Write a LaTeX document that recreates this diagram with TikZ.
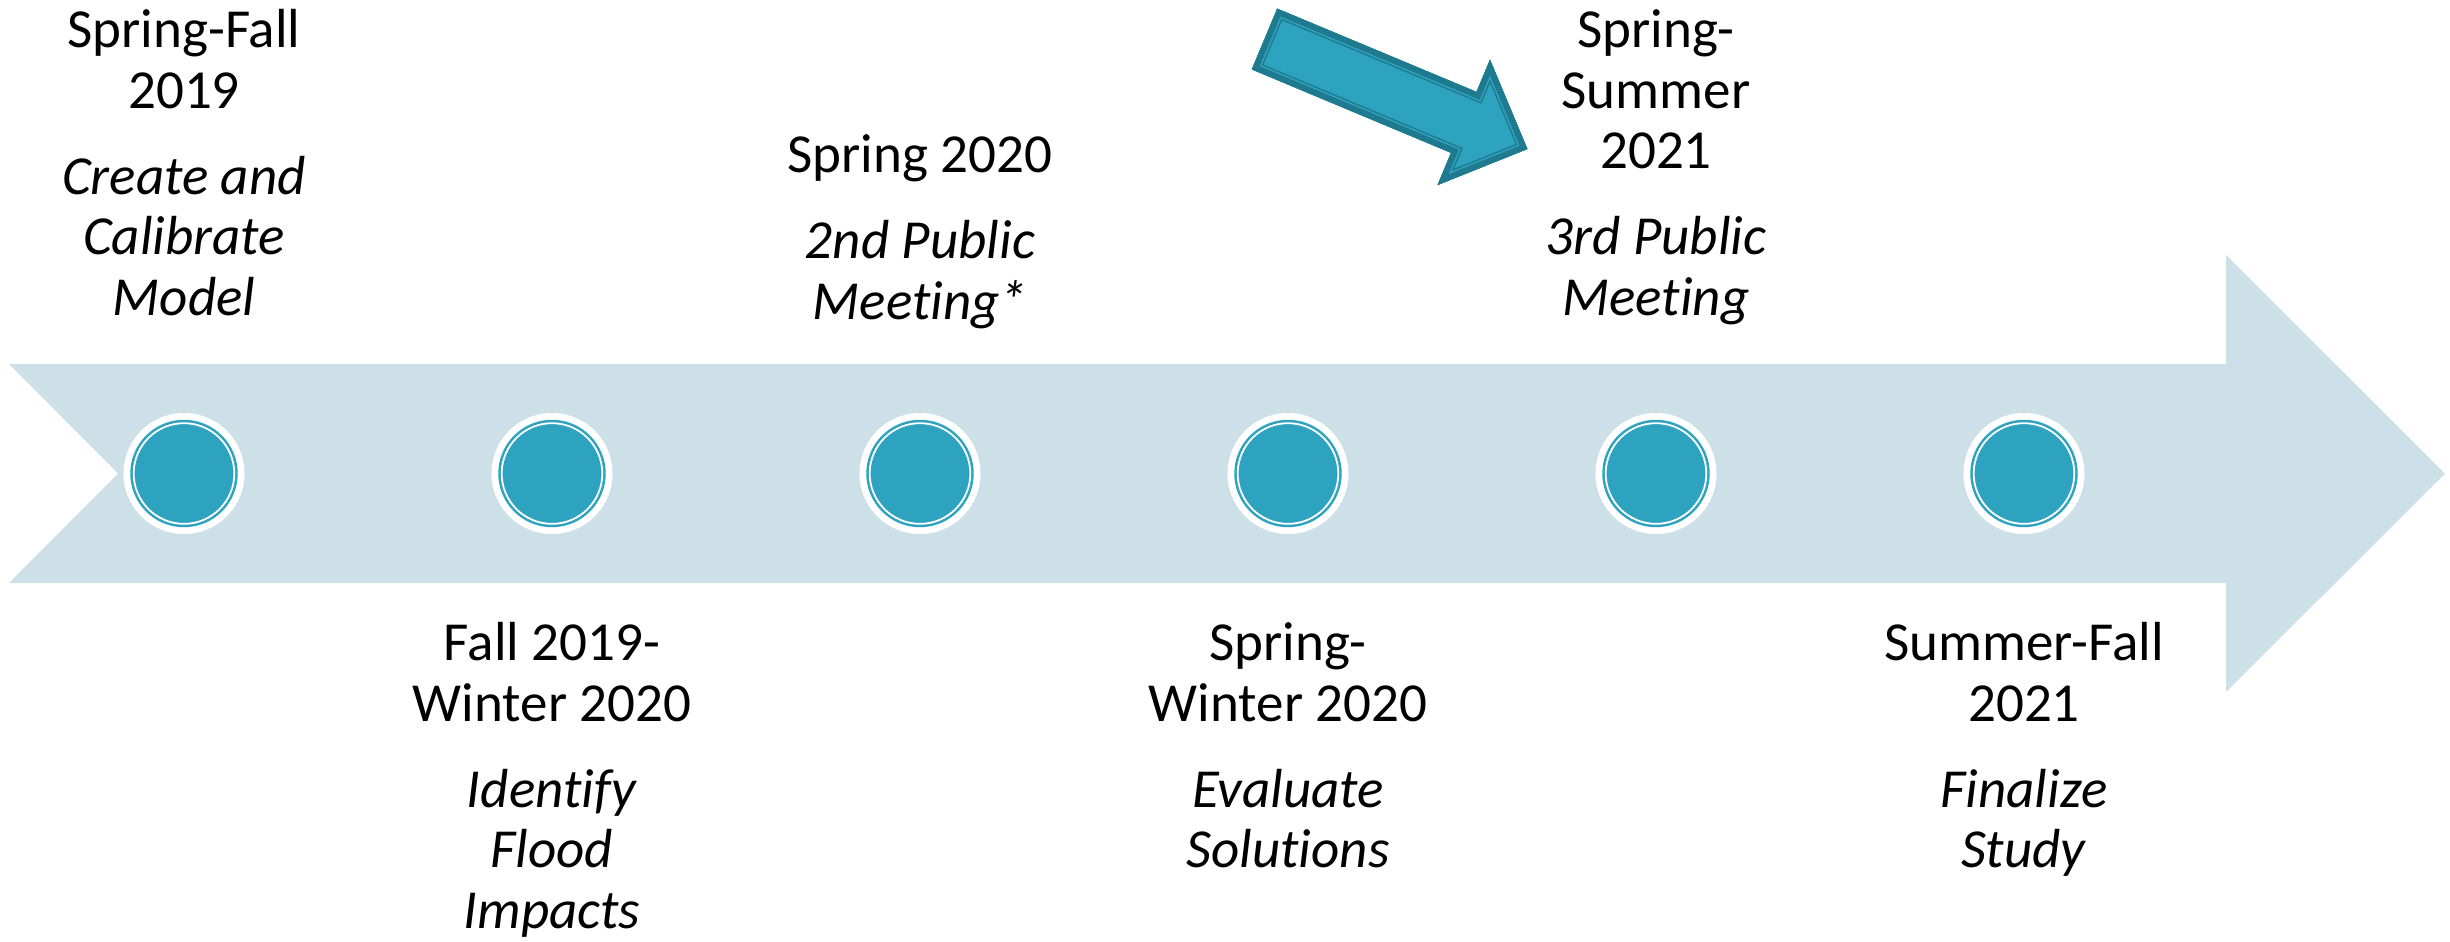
\documentclass[tikz,border=0pt]{standalone}
\usepackage{fontspec}
\setmainfont{Carlito}[Ligatures={NoCommon}]
\usepackage{tikz}
\usetikzlibrary{positioning}
\usepackage{xcolor}
\definecolor{bandblue}{RGB}{206,224,231}
\definecolor{dotteal}{RGB}{46,163,191}
\definecolor{arrowedge}{RGB}{31,122,143}

\begin{document}
\begin{tikzpicture}[x=0.01cm,y=-0.01cm,
    stopdot/.style={circle,inner sep=0pt,minimum size=1.006cm,fill=dotteal,draw=white,line width=0.018cm,
      preaction={draw=white,line width=0.204cm},preaction={draw=dotteal,line width=0.068cm}},
    lbl/.style={anchor=north,align=center,inner sep=0pt,font=\fontsize{15.65pt}{17.2pt}\selectfont}]
    \useasboundingbox (0,0) rectangle (2450,941);
    % timeline band
    \fill[bandblue] (9,364)--(2226,364)--(2226,255)--(2445,473.5)--(2226,692)--(2226,583)--(9,583)--(118,473.5)--cycle;
    % stops
    \foreach \i/\x in {1/184,2/552,3/920,4/1288,5/1656,6/2024}
        \node[stopdot] (c\i) at (\x,473.5) {};
    % labels above
    \node[lbl] (t1) at (184,4.7) {\strut Spring-Fall\\2019\\[7.2pt]\textit{Create and}\\\textit{Calibrate}\\\textit{Model}};
    \node[lbl] (t3) at (920,129.7) {\strut Spring 2020\\[7.2pt]\textit{2nd Public}\\\textit{Meeting*}};
    \node[lbl] (t5) at (1656,4.7) {\strut Spring-\\Summer\\2021\\[7.2pt]\textit{3rd Public}\\\textit{Meeting}};
    % labels below
    \node[lbl] (t2) at (552,617.7) {\strut Fall 2019-\\Winter 2020\\[7.2pt]\textit{Identify}\\\textit{Flood}\\\textit{Impacts}};
    \node[lbl] (t4) at (1288,617.7) {\strut Spring-\\Winter 2020\\[7.2pt]\textit{Evaluate}\\\textit{Solutions}};
    \node[lbl] (t6) at (2024,617.7) {\strut Summer-Fall\\2021\\[7.2pt]\textit{Finalize}\\\textit{Study}};
    % pointer arrow
    \coordinate (a1) at (1277.2,8.6);
    \coordinate (a2) at (1476.5,91.9);
    \coordinate (a3) at (1490.0,59.6);
    \coordinate (a4) at (1527.4,149.0);
    \coordinate (a5) at (1437.5,185.1);
    \coordinate (a6) at (1451.0,152.8);
    \coordinate (a7) at (1251.8,69.4);
    \begin{scope}
        \clip (a1)--(a2)--(a3)--(a4)--(a5)--(a6)--(a7)--cycle;
        \fill[dotteal] (a1)--(a2)--(a3)--(a4)--(a5)--(a6)--(a7)--cycle;
        \foreach \w/\c in {0.18cm/arrowedge,0.15cm/dotteal,0.12cm/arrowedge}
            \draw[\c,line width=\w] (a1)--(a2)--(a3)--(a4)--(a5)--(a6)--(a7)--cycle;
    \end{scope}
\end{tikzpicture}
\end{document}
